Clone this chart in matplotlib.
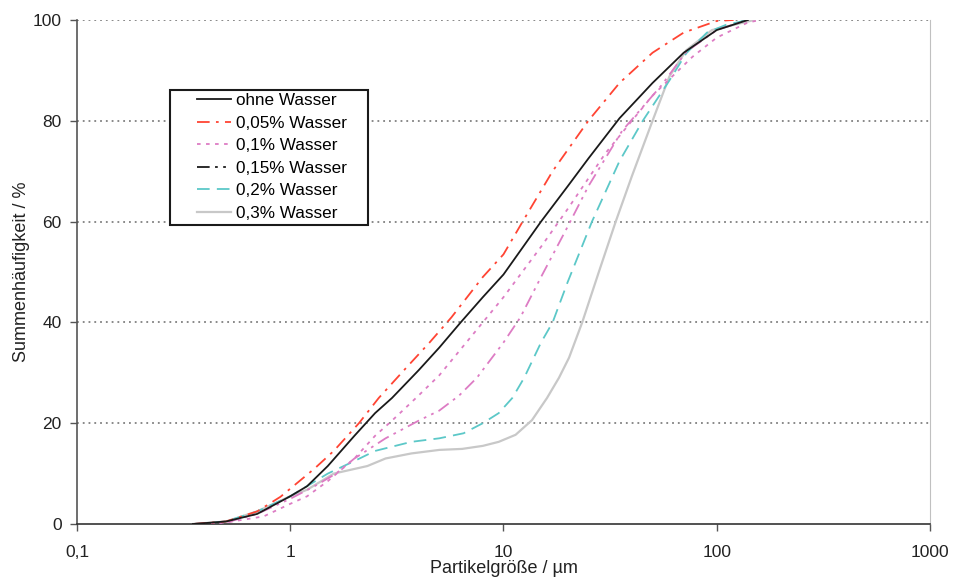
import numpy as np
import matplotlib
matplotlib.use('Agg')
import matplotlib.pyplot as plt
from matplotlib.lines import Line2D
from matplotlib.patches import Rectangle
from matplotlib.ticker import FixedLocator, FuncFormatter, NullLocator

plt.rcParams['font.family'] = ['Liberation Sans', 'DejaVu Sans']

# Partikelgröße (µm) und Summenhäufigkeit (%) je Probe
x_ohne = [0.35, 0.5, 0.7, 1, 1.2, 1.5, 2, 2.5, 3, 4, 5, 6.3, 8, 10, 15, 20, 25, 35, 50, 70, 100, 140]
y_ohne = [0, 0.5, 2, 5.5, 7.5, 11.5, 17.5, 22, 25, 30.5, 35, 40, 45, 49.5, 60, 67, 72.5, 80.5, 87.5, 93.5, 98, 100]

x_005 = [0.35, 0.5, 0.7, 0.9, 1, 1.3, 1.6, 2.1, 2.6, 3.5, 4.5, 5.7, 8, 10, 12.3, 17, 25, 35, 50, 70, 100, 120]
y_005 = [0, 0.5, 2.5, 5.4, 7, 11, 14.5, 20, 25, 31, 36, 41, 49, 53.5, 60, 70, 80, 87.5, 93.5, 97.5, 99.8, 100]

x_01 = [0.35, 0.5, 0.75, 1, 1.2, 1.5, 2, 2.5, 3, 4, 5, 8, 10, 15, 20, 30, 40, 50, 77, 100, 140, 160]
y_01 = [0, 0.3, 1.5, 4, 5.5, 8.5, 13, 17.5, 20.5, 25.5, 29.5, 40, 45, 55, 62.5, 73.5, 80, 85, 92.7, 96.5, 99.5, 100]

x_015 = [0.35, 0.5, 0.7, 1, 1.3, 1.64, 2, 2.8, 4, 5, 6.2, 7.5, 10, 12, 15, 20, 25, 36, 55, 72, 100, 140]
y_015 = [0, 0.3, 2, 5, 7.5, 10, 13, 17, 20.5, 22.5, 25.5, 29, 36, 41, 49, 59, 67, 78, 87, 93.7, 98, 100]

x_02 = [0.35, 0.5, 0.7, 1, 1.5, 2, 2.5, 3.7, 5, 6.5, 8, 9.5, 11, 12.5, 15, 17, 20, 26, 35, 45, 60, 72, 90, 110, 140]
y_02 = [0, 0.5, 2.5, 5.5, 10, 12.5, 14.5, 16.3, 17, 18, 20, 22, 25, 29, 36, 40, 48, 60, 72, 80, 88, 93.4, 97.5, 99, 100]

x_03 = [0.35, 0.5, 0.7, 1, 1.2, 1.6, 2.3, 2.8, 3.7, 5, 6.4, 8, 9.5, 11.4, 13.6, 16, 18.2, 20.3, 23.4, 28, 33.6, 40, 50, 60, 72, 95, 150]
y_03 = [0, 0.5, 2.5, 5.5, 6.8, 10, 11.5, 13, 14, 14.7, 14.9, 15.5, 16.3, 17.7, 20.6, 25, 29, 33, 40, 50, 60, 69, 80, 88.8, 94, 98, 100]

x_ticks = [0.1, 1, 10, 100, 1000]
y_ticks = [0, 20, 40, 60, 80, 100]

fig = plt.figure(figsize=(9.66, 5.79), dpi=100)
ax = fig.add_axes([0.0797, 0.095, 0.883, 0.8705])

ax.set_xscale('log')
ax.set_xlim(0.1, 1000)
ax.set_ylim(0, 100)

# Gitterlinien
for yv in y_ticks[1:]:
    ax.axhline(yv, color='#808080', lw=1.3, ls=(0, (1, 2.2)), zorder=1)

lw = 1.3
ax.plot(x_03, y_03, color='#c8c8c8', lw=1.6, zorder=2)
ax.plot(x_02, y_02, color='#5cc8c8', lw=lw, dashes=(7, 4), zorder=3)
ax.plot(x_015, y_015, color='#dd7cc4', lw=lw, dashes=(7, 3, 1.5, 3, 1.5, 3), zorder=3)
ax.plot(x_01, y_01, color='#dd7cc4', lw=lw, dashes=(2, 3), zorder=3)
ax.plot(x_005, y_005, color='#ff4433', lw=lw, dashes=(7, 3.5, 1.5, 3.5), zorder=4)
ax.plot(x_ohne, y_ohne, color='#1a1a1a', lw=lw, zorder=5)

handles = [
    Line2D([], [], color='#1a1a1a', lw=lw),
    Line2D([], [], color='#ff4433', lw=lw, dashes=(7, 3.5, 1.5, 3.5)),
    Line2D([], [], color='#dd7cc4', lw=lw, dashes=(2, 3)),
    Line2D([], [], color='#1a1a1a', lw=lw, dashes=(7, 3, 1.5, 3, 1.5, 3)),
    Line2D([], [], color='#5cc8c8', lw=lw, dashes=(7, 4)),
    Line2D([], [], color='#c8c8c8', lw=1.6),
]
labels = ['ohne Wasser', '0,05% Wasser', '0,1% Wasser', '0,15% Wasser', '0,2% Wasser', '0,3% Wasser']
leg = fig.legend(handles, labels, loc='upper left', bbox_to_anchor=(197 / 966, 1 - 93 / 579),
                 bbox_transform=fig.transFigure,
                 fontsize=12.3, frameon=False, handlelength=2.0,
                 handletextpad=0.3, labelspacing=0.44, borderpad=0,
                 borderaxespad=0)

# Legendenrahmen
fig.patches.append(Rectangle((170 / 966, 1 - 225 / 579), 198 / 966, 135 / 579,
                             transform=fig.transFigure, fill=True, facecolor='white',
                             edgecolor='#1a1a1a', lw=1.5, zorder=0))

# Achsen
ax.spines['top'].set_visible(False)
ax.spines['right'].set_color('#c0c0c0')
ax.spines['left'].set_color('#555555')
ax.spines['bottom'].set_color('#333333')
ax.spines['left'].set_linewidth(1.2)
ax.spines['bottom'].set_linewidth(1.2)

ax.xaxis.set_major_locator(FixedLocator(x_ticks))
ax.xaxis.set_minor_locator(NullLocator())
ax.xaxis.set_major_formatter(FuncFormatter(lambda v, p: ('%g' % v).replace('.', ',')))
ax.yaxis.set_major_locator(FixedLocator(y_ticks))
ax.tick_params(axis='both', direction='out', length=5, width=1, color='#555555',
               labelsize=12.5, labelcolor='#222222')
ax.tick_params(axis='x', pad=10)
ax.tick_params(axis='y', pad=6)

ax.set_xlabel('Partikelgröße / µm', fontsize=13, color='#222222', labelpad=0)
ax.set_ylabel('Summenhäufigkeit / %', fontsize=13, color='#222222', labelpad=2)

fig.savefig('out.png', dpi=100)
